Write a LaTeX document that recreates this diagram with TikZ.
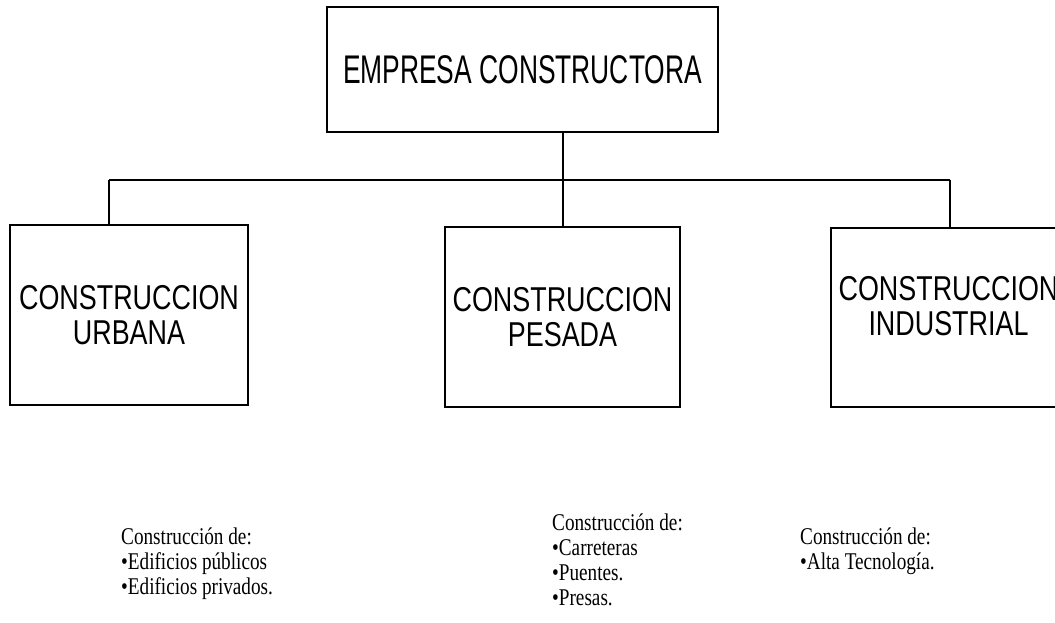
\documentclass[tikz,border=0pt]{standalone}
\usepackage{fontspec}
\setmainfont[FakeStretch=0.8]{Liberation Serif}
\newfontfamily\arialn[FakeStretch=0.78]{Liberation Sans}
\newfontfamily\arialt[FakeStretch=0.66]{Liberation Sans}
\begin{document}
\begin{tikzpicture}[x=1pt,y=-1pt,
  box/.style={draw, line width=1.2pt, inner sep=0pt},
  boxtxt/.style={align=center, font=\arialn\fontsize{34.5}{35}\selectfont},
  wire/.style={draw, line width=1.2pt},
  lst/.style={anchor=base west, inner sep=0pt, font=\fontsize{24}{25}\selectfont}]
\useasboundingbox (0,0) rectangle (1055,622);
% boxes
\node[box, minimum width=391pt, minimum height=125pt,
      font=\arialt\fontsize{40}{40}\selectfont] (top) at (522.5,69.5) {EMPRESA CONSTRUCTORA};
\node[box, minimum width=238pt, minimum height=180pt, boxtxt] (urb) at (129,315) {CONSTRUCCION\\URBANA};
\node[box, minimum width=235pt, minimum height=180pt, boxtxt] (pes) at (562.5,317) {CONSTRUCCION\\PESADA};
\node[box, minimum width=235pt, minimum height=179pt] (ind) at (948.5,317.5) {};
\node[boxtxt, inner sep=0pt] (indt) at ([yshift=11pt]ind.center) {CONSTRUCCION\\INDUSTRIAL};
% connectors
\coordinate (j) at (563,180);
\coordinate (jl) at (109,180);
\coordinate (jr) at (950,180);
\draw[wire] (top.south -| j) -- (j);
\draw[wire] (jl) -- (jr);
\draw[wire] (jl) -- (jl |- urb.north);
\draw[wire] (j) -- (j |- pes.north);
\draw[wire] (jr) -- (jr |- ind.north);
% lists
\node[lst] (l1) at (121,544) {Construcción de:};
\node[lst] (l2) at (121,569) {•Edificios públicos};
\node[lst] (l3) at (121,594) {•Edificios privados.};
\node[lst] (m1) at (552,530) {Construcción de:};
\node[lst] (m2) at (552,555) {•Carreteras};
\node[lst] (m3) at (552,580) {•Puentes.};
\node[lst] (m4) at (552,605) {•Presas.};
\node[lst] (r1) at (800,544) {Construcción de:};
\node[lst] (r2) at (800,569) {•Alta Tecnología.};
\end{tikzpicture}
\end{document}
